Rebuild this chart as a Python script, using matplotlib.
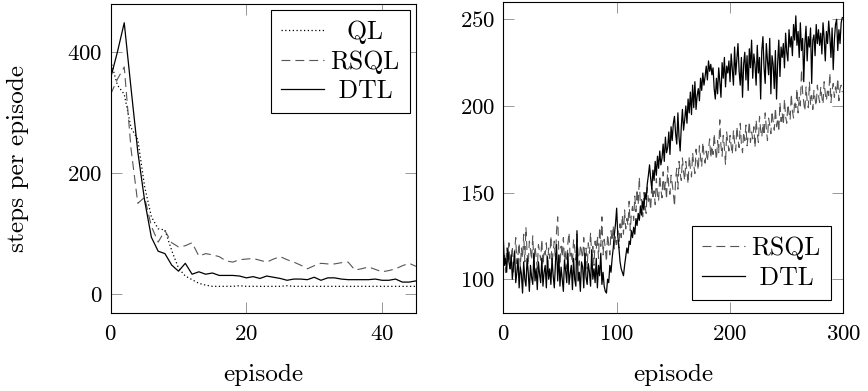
import numpy as np
import matplotlib
matplotlib.use('Agg')
import matplotlib.pyplot as plt

# ── data ──────────────────────────────────────────────────────
ep_short = np.arange(46)
ql = [385, 345, 330, 275, 255, 178, 128, 108, 106, 72, 43, 30, 24, 18, 15, 13,
      13, 13, 13, 14, 13, 13, 13, 13, 13, 13, 14, 13, 13, 13, 13, 13, 13, 13,
      13, 13, 13, 13, 13, 13, 13, 13, 13, 13, 13, 13]
rsql_short = [330, 355, 375, 240, 150, 160, 112, 86, 105, 85, 78, 80, 85, 63,
              67, 65, 62, 55, 53, 57, 58, 59, 56, 53, 58, 62, 57, 53, 48, 42,
              47, 51, 50, 50, 52, 53, 40, 42, 45, 41, 37, 39, 42, 47, 51, 46]
dtl_short = [357, 400, 448, 340, 235, 155, 94, 71, 67, 48, 38, 51, 33, 37, 33,
             35, 31, 31, 31, 30, 27, 29, 26, 30, 28, 26, 23, 25, 25, 24, 28, 23,
             27, 27, 25, 24, 24, 24, 24, 25, 23, 23, 25, 20, 20, 22]

ep_long = np.arange(300)
rsql_long = [
    108, 115, 104, 118, 110, 121, 106, 113, 119, 103, 116, 124, 109, 114, 121, 107, 118, 112, 126, 110,
    130, 115, 108, 122, 117, 111, 125, 109, 119, 113, 106, 120, 116, 111, 123, 108, 117, 114, 121, 106,
    118, 112, 125, 109, 116, 122, 110, 128, 136, 115, 108, 119, 113, 124, 110, 117, 106, 121, 127, 112,
    115, 109, 123, 118, 111, 126, 114, 108, 120, 116, 112, 124, 110, 118, 106, 121, 115, 127, 113, 119,
    108, 122, 117, 125, 112, 130, 119, 136, 114, 123, 118, 110, 126, 120, 114, 128, 122, 131, 117, 125,
    120, 128, 118, 132, 124, 137, 126, 140, 129, 135, 131, 145, 128, 138, 142, 134, 148, 139, 152, 143,
    159, 140, 146, 136, 150, 142, 138, 153, 145, 148, 140, 155, 146, 151, 143, 158, 149, 145, 160, 152,
    147, 162, 150, 156, 146, 165, 153, 149, 160, 155, 150, 142, 158, 164, 152, 168, 161, 157, 170, 162,
    157, 168, 162, 155, 171, 164, 159, 173, 166, 161, 175, 168, 163, 177, 170, 165, 179, 172, 167, 174,
    168, 175, 181, 170, 177, 172, 184, 175, 169, 180, 173, 192, 177, 171, 183, 176, 166, 185, 179, 174,
    183, 177, 172, 186, 179, 174, 188, 181, 176, 190, 178, 173, 185, 180, 189, 177, 183, 191, 179, 185,
    181, 188, 176, 192, 184, 179, 194, 186, 182, 190, 183, 196, 187, 180, 193, 189, 184, 197, 191, 186,
    199, 188, 193, 185, 202, 191, 196, 189, 204, 194, 190, 201, 196, 192, 207, 197, 193, 203, 199, 210,
    196, 205, 200, 221, 208, 202, 197, 211, 203, 199, 214, 201, 206, 198, 209, 204, 200, 212, 206, 202,
    211, 205, 201, 214, 207, 203, 210, 206, 219, 202, 209, 213, 205, 211, 207, 216, 203, 210, 212, 208,
]
dtl_long = [
    125, 108, 112, 104, 118, 110, 106, 114, 100, 108, 116, 98, 104, 112, 95, 107, 103, 92, 110, 100,
    96, 112, 104, 93, 108, 101, 97, 115, 99, 106, 94, 110, 103, 98, 112, 96, 104, 108, 95, 113,
    100, 106, 97, 112, 102, 95, 109, 120, 99, 114, 96, 107, 100, 93, 111, 105, 98, 115, 97, 103,
    108, 94, 112, 100, 96, 128, 99, 104, 93, 110, 107, 95, 115, 101, 97, 109, 104, 96, 117, 100,
    106, 98, 112, 95, 108, 102, 115, 97, 104, 96, 93, 92, 100, 98, 108, 104, 112, 118, 126, 132,
    141, 125, 118, 110, 106, 104, 102, 108, 113, 118, 115, 122, 120, 128, 124, 130, 126, 135, 131, 138,
    134, 142, 137, 145, 140, 150, 146, 155, 160, 166, 158, 152, 163, 157, 168, 160, 171, 164, 174, 166,
    170, 178, 168, 182, 173, 176, 185, 172, 188, 180, 190, 194, 184, 178, 196, 182, 174, 188, 198, 186,
    192, 200, 190, 204, 196, 208, 195, 212, 199, 214, 198, 206, 210, 203, 216, 209, 219, 212, 217, 223,
    215, 226, 220, 224, 218, 222, 210, 204, 216, 207, 222, 214, 205, 225, 216, 228, 211, 223, 219, 226,
    214, 230, 221, 212, 234, 218, 227, 236, 220, 212, 228, 205, 224, 231, 215, 229, 209, 233, 222, 238,
    216, 230, 224, 212, 235, 219, 228, 204, 232, 240, 222, 213, 236, 226, 218, 239, 207, 229, 224, 210,
    232, 204, 225, 238, 217, 234, 228, 236, 222, 242, 231, 226, 244, 234, 240, 229, 247, 238, 252, 235,
    243, 228, 248, 232, 239, 214, 236, 246, 226, 240, 234, 245, 213, 238, 241, 229, 247, 236, 244, 235,
    242, 230, 248, 239, 226, 243, 236, 249, 240, 228, 245, 221, 238, 247, 250, 232, 244, 236, 248, 251,
]

# ── style ─────────────────────────────────────────────────────
plt.rcParams.update({
    'font.family': 'cmr10', 'mathtext.fontset': 'cm',
    'axes.formatter.use_mathtext': True, 'font.size': 18.2,
    'axes.linewidth': 0.8, 'legend.fontsize': 18.5,
})
GRAY = '#555555'
DASH = (8, 4.5)
LEG = dict(handlelength=1.64, handletextpad=0.25, fancybox=False,
           edgecolor='black', framealpha=1, labelspacing=0.22,
           borderpad=0.4)


def style_axes(ax):
    ax.tick_params(direction='in', top=True, right=True, length=8,
                   width=0.6, color='#888888', labelsize=16.5)
    ax.tick_params(axis='x', pad=8)
    ax.tick_params(axis='y', pad=6)
    for s in ax.spines.values():
        s.set_linewidth(0.8)


fig = plt.figure(figsize=(8.68, 3.91), dpi=100)

# ── left: first episodes ──────────────────────────────────────
ax1 = fig.add_axes([0.1275, 0.1995, 0.3517, 0.7903])
ax1.plot(ep_short, ql, color='black', lw=0.9, ls=(0, (1, 2)), label='  QL')
ax1.plot(ep_short, rsql_short, color=GRAY, lw=0.8, dashes=DASH, label='RSQL')
ax1.plot(ep_short, dtl_short, color='black', lw=0.9, label=' DTL')
ax1.set_xlim(0, 45)
ax1.set_ylim(-31, 479)
ax1.set_xticks([0, 20, 40])
ax1.set_yticks([0, 200, 400])
ax1.set_xlabel('episode')
ax1.set_ylabel('steps per episode')
ax1.xaxis.set_label_coords(0.5, -0.20)
ax1.xaxis.label.set_va('center')
ax1.yaxis.set_label_coords(-0.304, 0.5)
ax1.yaxis.label.set_va('center')
style_axes(ax1)
leg1 = ax1.legend(loc='upper right', borderaxespad=0.25, **LEG)
leg1.get_frame().set_linewidth(0.8)

# ── right: full run ───────────────────────────────────────────
ax2 = fig.add_axes([0.5798, 0.1995, 0.3919, 0.7954])
ax2.plot(ep_long, rsql_long, color=GRAY, lw=0.8, dashes=DASH, label='RSQL')
ax2.plot(ep_long, dtl_long, color='black', lw=0.9, label=' DTL')
ax2.set_xlim(0, 300)
ax2.set_ylim(80.5, 260)
ax2.set_xticks([0, 100, 200, 300])
ax2.set_yticks([100, 150, 200, 250])
ax2.set_xlabel('episode')
ax2.xaxis.set_label_coords(0.5, -0.199)
ax2.xaxis.label.set_va('center')
style_axes(ax2)
leg2 = ax2.legend(loc='lower right', borderaxespad=0.5, **LEG)
leg2.get_frame().set_linewidth(0.8)

fig.savefig('out.png', dpi=100)
